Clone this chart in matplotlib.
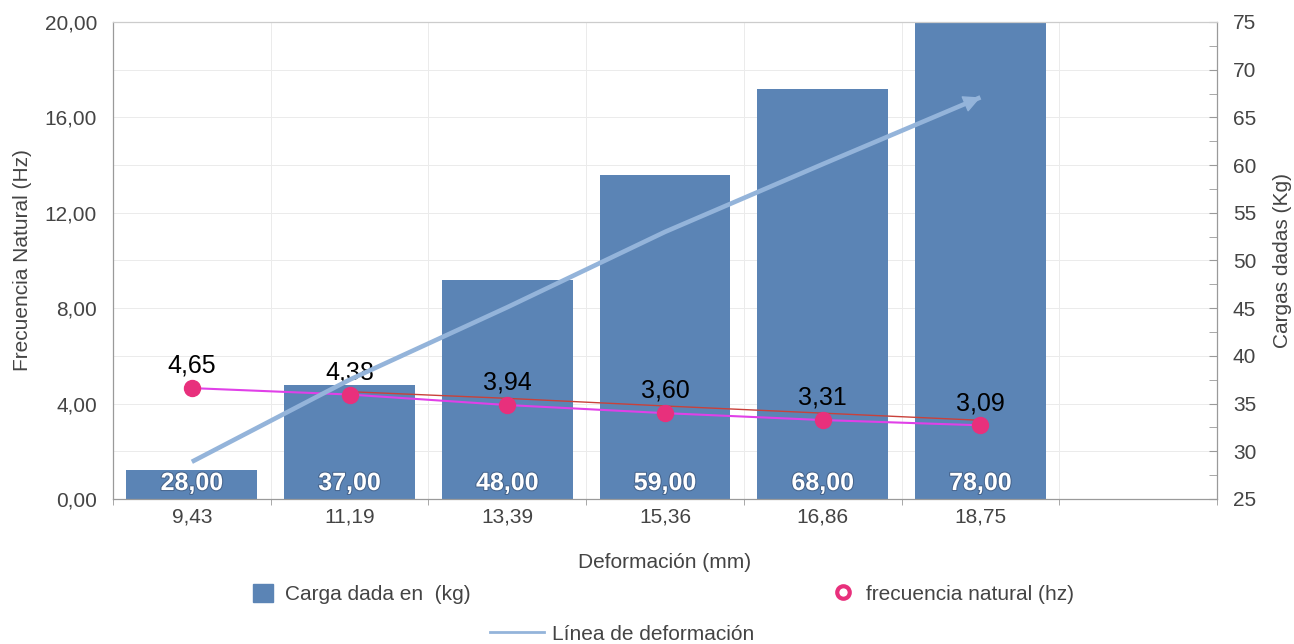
import matplotlib.pyplot as plt
import matplotlib.patheffects as pe
from matplotlib.lines import Line2D
from matplotlib.patches import Patch
from matplotlib.ticker import FuncFormatter, MultipleLocator, FixedLocator

plt.rcParams['font.family'] = ['Liberation Sans', 'DejaVu Sans']

# data
deformacion = ["9,43", "11,19", "13,39", "15,36", "16,86", "18,75", ""]
cargas = [28, 37, 48, 59, 68, 78]
frecuencia = [4.65, 4.38, 3.94, 3.60, 3.31, 3.09]
tendencia_frec = [4.50, 4.22, 3.90, 3.60, 3.30]   # thin red line, from 11,19 on
linea_deformacion = [28.9, 37.5, 45.1, 53.0, 60.1, 67.1]

bar_color = '#5b84b5'
line_blue = '#94b4da'
pink = '#e8307c'
magenta = '#e040e8'
grey_txt = '#444444'
spine_c = '#9a9a9a'
fs = 15

def coma(v, pos=None):
    return f"{v:.2f}".replace('.', ',')

fig = plt.figure(figsize=(12.94, 6.44), dpi=100)
ax2 = fig.add_axes([113/1294, 1 - 499/644, (1217-113)/1294, (499-22)/644])
ax = ax2.twinx()
ax3 = ax2.twinx()

ax2.set_zorder(1)
ax.set_zorder(2)
ax3.set_zorder(3)
ax.patch.set_visible(False)
ax3.patch.set_visible(False)

n = len(deformacion)
xs = list(range(n))

# bars (right axis)
ax2.bar(xs[:len(cargas)], cargas, width=0.83, color=bar_color, zorder=2)
ax2.set_ylim(25, 75)
ax2.set_xlim(-0.5, n - 0.5)
for i, c in enumerate(cargas):
    ax2.annotate(coma(c), xy=(i, 25), xytext=(0, 11.5), textcoords='offset points',
                 ha='center', va='center', fontsize=18, fontweight='bold', color='white',
                 path_effects=[pe.withStroke(linewidth=1.5, foreground='#46648c')], zorder=3)

# grid on bottom axes
ax2.set_axisbelow(True)
ax2.yaxis.set_major_locator(MultipleLocator(5))
ax2.yaxis.set_minor_locator(MultipleLocator(2.5))
ax2.xaxis.set_major_locator(FixedLocator(xs))
ax2.xaxis.set_minor_locator(FixedLocator([i + 0.5 for i in range(-1, n)]))
ax2.grid(True, axis='y', which='major', color='#ebebeb', lw=0.7)
ax2.grid(True, axis='x', which='minor', color='#ebebeb', lw=0.7)
ax2.set_xticklabels(deformacion)
ax2.tick_params(axis='x', which='major', length=0, labelsize=fs, labelcolor=grey_txt, pad=6)
ax2.tick_params(axis='x', which='minor', length=4, color=spine_c, direction='out')
ax2.set_xlabel("Deformación (mm)", fontsize=fs, color=grey_txt, labelpad=19)

# frequency (left axis)
ax.yaxis.tick_left()
ax.yaxis.set_label_position('left')
ax.plot(xs[:len(frecuencia)], frecuencia, color=magenta, lw=1.5, zorder=2)
ax.plot(xs[1:1 + len(tendencia_frec)], tendencia_frec, color='#c9413a', lw=1.0, zorder=2)
ax.plot(xs[:len(frecuencia)], frecuencia, ls='none', marker='o', ms=11.5,
        color=pink, zorder=3)
for i, f in enumerate(frecuencia):
    ax.annotate(coma(f), xy=(i, f), xytext=(0, 16), textcoords='offset points',
                ha='center', va='center', fontsize=18, color='black', zorder=4)
ax.set_ylim(0, 20)
ax.yaxis.set_major_locator(MultipleLocator(4))
ax.yaxis.set_major_formatter(FuncFormatter(coma))
ax.tick_params(axis='y', length=0, labelsize=fs, labelcolor=grey_txt, pad=11.5)
ax.set_ylabel("Frecuencia Natural (Hz)", fontsize=fs, color=grey_txt, labelpad=9)

# right axis
ax2.yaxis.tick_right()
ax2.yaxis.set_label_position('right')
ax2.tick_params(axis='y', which='both', left=False, right=True, labelleft=False,
                labelright=True, direction='in', length=6, color=spine_c,
                labelsize=fs, labelcolor=grey_txt, pad=11.5)
ax2.set_ylabel("Cargas dadas (Kg)", fontsize=fs, color=grey_txt, labelpad=12)

# deformation line on top
ax3.set_ylim(25, 75)
ax3.axis('off')
ax3.plot(xs[:len(linea_deformacion)], linea_deformacion, color=line_blue, lw=3.3,
         solid_capstyle='butt', zorder=2)
ax3.annotate('', xy=(len(linea_deformacion) - 1, linea_deformacion[-1]),
             xytext=(len(linea_deformacion) - 1.3,
                     linea_deformacion[-1] - 0.3 * (linea_deformacion[-1] - linea_deformacion[-2])),
             arrowprops=dict(arrowstyle='-|>,head_length=0.9,head_width=0.45',
                             color=line_blue, lw=1, mutation_scale=12,
                             shrinkA=0, shrinkB=0))

for a in (ax, ax2, ax3):
    for s in a.spines.values():
        s.set_visible(False)
for side in ('left', 'right', 'top', 'bottom'):
    ax2.spines[side].set_visible(True)
    ax2.spines[side].set_color(spine_c if side != 'top' else '#cccccc')
    ax2.spines[side].set_linewidth(0.9)

# legends below
leg_kw = dict(frameon=False, fontsize=fs, labelcolor=grey_txt, loc='center left',
              borderpad=0, borderaxespad=0)
fig.legend(handles=[Patch(color=bar_color)], labels=["Carga dada en  (kg)"],
           bbox_to_anchor=(253/1294, 1 - 594/644), handlelength=0.95, handleheight=0.95,
           handletextpad=0.6, **leg_kw)
fig.legend(handles=[Line2D([], [], ls='none', marker='o', ms=9, mfc='white',
                           mec=pink, mew=3)],
           labels=["frecuencia natural (hz)"],
           bbox_to_anchor=(834/1294, 1 - 594/644), handlelength=0.9,
           handletextpad=0.65, **leg_kw)
fig.legend(handles=[Line2D([], [], color=line_blue, lw=2)], labels=["Línea de deformación"],
           bbox_to_anchor=(490/1294, 1 - 634/644), handlelength=2.6,
           handletextpad=0.4, **leg_kw)

fig.savefig("out.png", dpi=100)
